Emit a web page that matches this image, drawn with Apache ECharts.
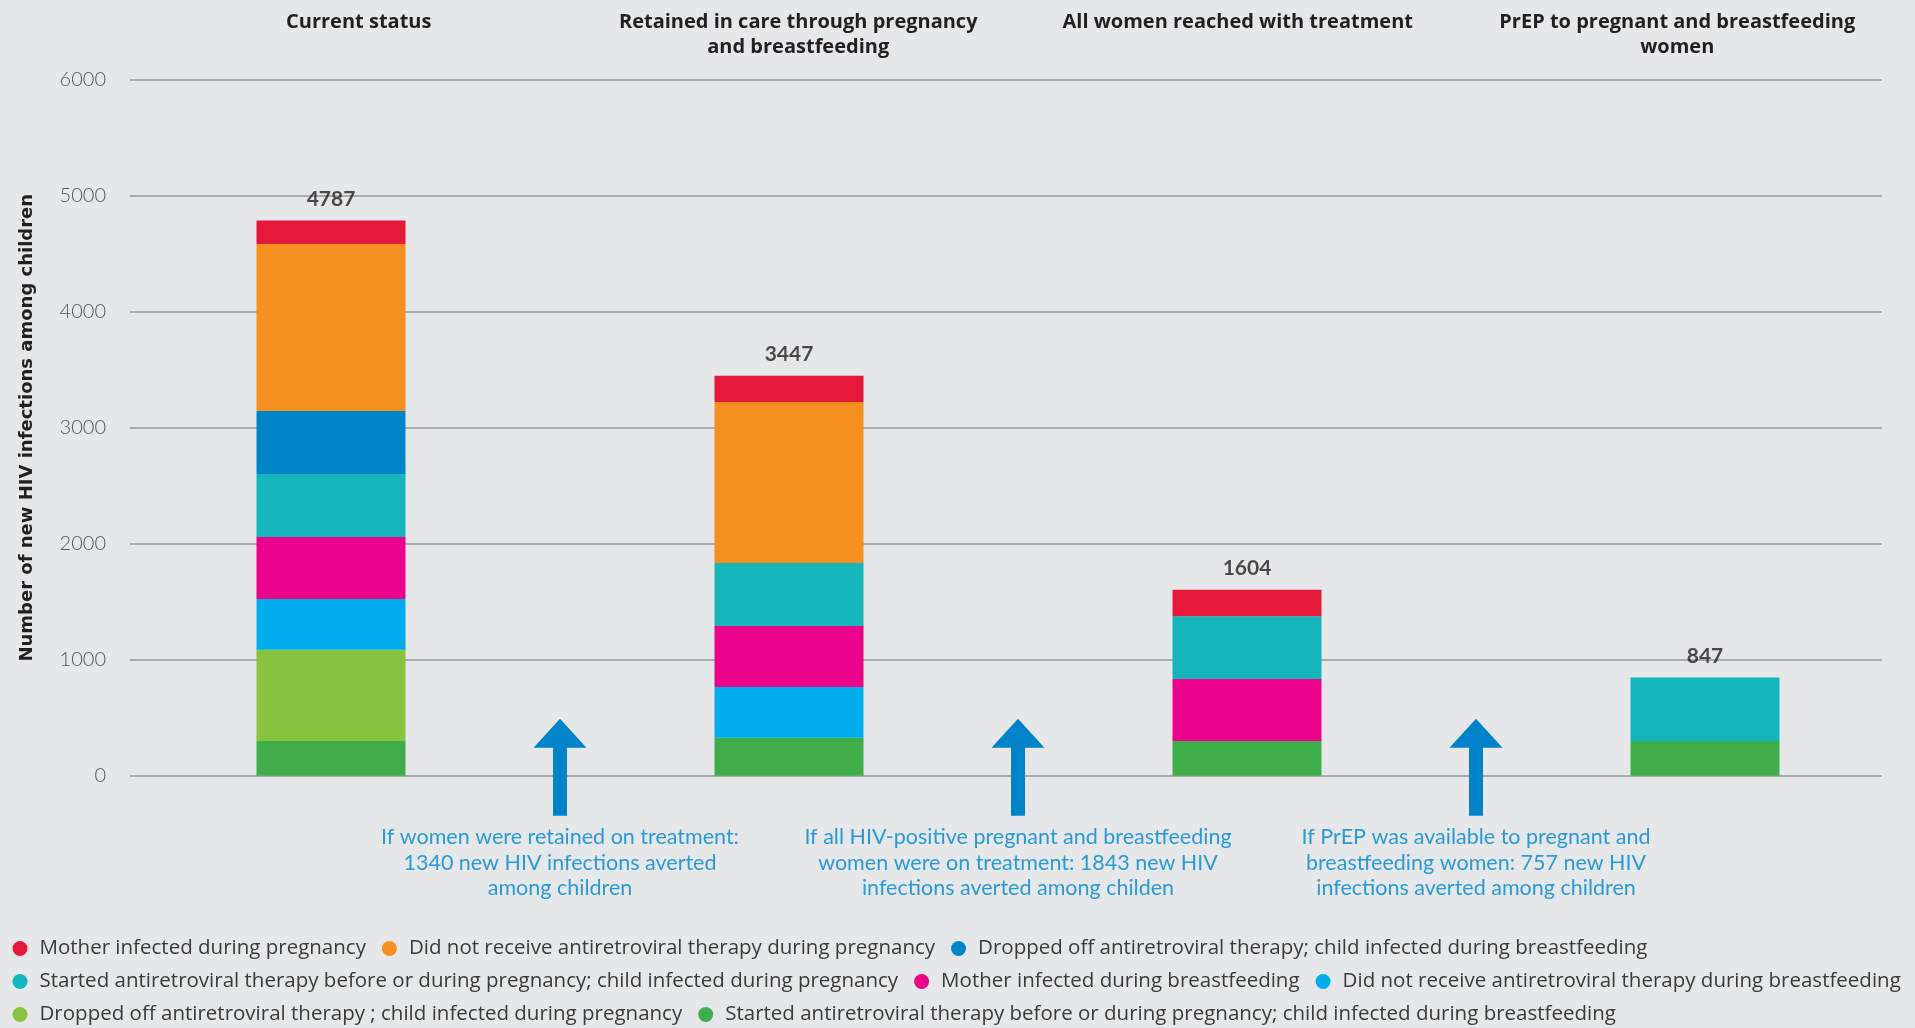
<!DOCTYPE html>
<html><head><meta charset="utf-8">
<script src="https://cdn.jsdelivr.net/npm/echarts@6/dist/echarts.min.js"></script>
<style>html,body{margin:0;padding:0;background:#e6e7e8;}#chart{width:1915px;height:1028px;}</style>
</head><body><div id="chart"></div>
<script>
// ---- data ----
const barTitles = ['Current status', 'Retained in care through pregnancy\nand breastfeeding', 'All women reached with treatment', 'PrEP to pregnant and breastfeeding\nwomen'];
const slots = ['Current status', 'gap1', 'Retained in care', 'gap2', 'All women reached', 'gap3', 'PrEP'];
const barSlots = [0, 2, 4, 6];
const arrowSlots = [1, 3, 5];
const totals = [4787, 3447, 1604, 847];
const yTicks = [0, 1000, 2000, 3000, 4000, 5000, 6000];
// stack segments, bottom to top, per bar
const startedArtChildBf = [299, 328, 299, 299];
const droppedOffChildPreg = [787, 0, 0, 0];
const noArtBf = [437, 437, 0, 0];
const motherInfectedBf = [535, 525, 535, 0];
const startedArtChildPreg = [543, 544, 540, 548];
const droppedOffChildBf = [543, 0, 0, 0];
const noArtPreg = [1440, 1388, 0, 0];
const motherInfectedPreg = [203, 225, 230, 0];
const arrowTexts = [
  'If women were retained on treatment:\n1340 new HIV infections averted\namong children',
  'If all HIV-positive pregnant and breastfeeding\nwomen were on treatment: 1843 new HIV\ninfections averted among childen',
  'If PrEP was available to pregnant and\nbreastfeeding women: 757 new HIV\ninfections averted among children'
];
const seriesDefs = [
  {name: 'Started antiretroviral therapy before or during pregnancy; child infected during breastfeeding', values: startedArtChildBf, color: '#40ae4a'},
  {name: 'Dropped off antiretroviral therapy ; child infected during pregnancy', values: droppedOffChildPreg, color: '#89c440'},
  {name: 'Did not receive antiretroviral therapy during breastfeeding', values: noArtBf, color: '#00adec'},
  {name: 'Mother infected during breastfeeding', values: motherInfectedBf, color: '#ec038b'},
  {name: 'Started antiretroviral therapy before or during pregnancy; child infected during pregnancy', values: startedArtChildPreg, color: '#14b6bc'},
  {name: 'Dropped off antiretroviral therapy; child infected during breastfeeding', values: droppedOffChildBf, color: '#0085c9'},
  {name: 'Did not receive antiretroviral therapy during pregnancy', values: noArtPreg, color: '#f58f1f'},
  {name: 'Mother infected during pregnancy', values: motherInfectedPreg, color: '#e4193a'}
];
const legendRows = [
  ['Mother infected during pregnancy', 'Did not receive antiretroviral therapy during pregnancy', 'Dropped off antiretroviral therapy; child infected during breastfeeding'],
  ['Started antiretroviral therapy before or during pregnancy; child infected during pregnancy', 'Mother infected during breastfeeding', 'Did not receive antiretroviral therapy during breastfeeding'],
  ['Dropped off antiretroviral therapy ; child infected during pregnancy', 'Started antiretroviral therapy before or during pregnancy; child infected during breastfeeding']
];

// ---- chart ----
const FONT = 'Lato, "Open Sans", sans-serif';
const WIDE = '"Open Sans", Lato, sans-serif';
function toSlots(vals) {
  const out = slots.map(() => '-');
  barSlots.forEach((s, i) => { out[s] = vals[i] ? vals[i] : '-'; });
  return out;
}
const chart = echarts.init(document.getElementById('chart'));
const series = seriesDefs.map(d => ({
  type: 'bar', name: d.name, stack: 'total', xAxisIndex: 1, yAxisIndex: 1,
  barWidth: 149, itemStyle: {color: d.color}, data: toSlots(d.values), animation: false
}));
series.push({
  type: 'scatter', xAxisIndex: 1, yAxisIndex: 1, symbolSize: 0, silent: true,
  data: barSlots.map((s, i) => [s, totals[i]]),
  label: {show: true, position: 'top', distance: 11, formatter: p => String(p.value[1]),
    fontFamily: FONT, fontWeight: 'bold', fontSize: 21, color: '#231f20'}
});
series.push({
  type: 'custom', xAxisIndex: 1, yAxisIndex: 1, clip: false, silent: true,
  data: arrowSlots.map(s => [s, 0]),
  renderItem: function (params, api) {
    const p = api.coord([api.value(0), 0]);
    const x = p[0], y0 = p[1];
    return {type: 'group', children: [
      {type: 'polygon', shape: {points: [[x, y0 - 57], [x + 26.5, y0 - 28], [x + 7, y0 - 28], [x + 7, y0 + 40], [x - 7, y0 + 40], [x - 7, y0 - 28], [x - 26.5, y0 - 28]]},
        style: {fill: '#0083c9'}},
      {type: 'text', x: x, y: y0 + 49, style: {text: arrowTexts[params.dataIndex], fill: '#2a9ad6',
        fontFamily: FONT, fontSize: 21.5, align: 'center', verticalAlign: 'top', lineHeight: 25.5}}
    ]};
  }
});
const legends = legendRows.map((row, i) => ({
  data: row, left: 12.5, top: 938 + i * 33, padding: 0, orient: 'horizontal',
  icon: 'circle', itemWidth: 29, itemHeight: 15, itemGap: 16, selectedMode: false,
  textStyle: {fontFamily: WIDE, fontSize: 20.5, color: '#3a3a3a'}
}));
chart.setOption({
  backgroundColor: '#e6e7e8',
  animation: false,
  legend: legends,
  grid: [
    {left: 130, right: 33, top: 79.7, bottom: 252.3, outerBoundsMode: 'none', containLabel: false},
    {left: 216.5, right: 95.5, top: 79.7, bottom: 252.3, outerBoundsMode: 'none', containLabel: false},
    {left: 139, right: 18, top: 79.7, bottom: 252.3, outerBoundsMode: 'none', containLabel: false}
  ],
  xAxis: [
    {gridIndex: 0, type: 'value', show: false, min: 0, max: 1},
    {gridIndex: 1, type: 'category', data: slots, show: false},
    {gridIndex: 2, type: 'category', data: barTitles, position: 'top',
      axisLine: {show: false}, axisTick: {show: false}, splitLine: {show: false},
      axisLabel: {interval: 0, fontFamily: WIDE, fontWeight: 'bold', fontSize: 20, color: '#231f20',
        lineHeight: 25, verticalAlign: 'top', margin: 70, align: 'center'}}
  ],
  yAxis: [
    {gridIndex: 0, type: 'value', min: yTicks[0], max: yTicks[yTicks.length - 1], interval: 1000,
      name: 'Number of new HIV infections among children', nameLocation: 'middle', nameGap: 94,
      nameTextStyle: {fontFamily: '"DejaVu Sans", sans-serif', fontWeight: 'bold', fontSize: 18, color: '#231f20'},
      axisLine: {show: false}, axisTick: {show: false},
      axisLabel: {fontFamily: FONT, fontWeight: 300, fontSize: 20, color: '#555658', margin: 24, formatter: v => String(v)},
      splitLine: {show: true, lineStyle: {color: '#a7a9ac', width: 2}}},
    {gridIndex: 1, type: 'value', min: yTicks[0], max: yTicks[yTicks.length - 1], interval: 1000, show: false, splitLine: {show: false}},
    {gridIndex: 2, type: 'value', min: 0, max: 1, show: false, splitLine: {show: false}}
  ],
  series: series.concat([{type: 'line', xAxisIndex: 0, yAxisIndex: 0, data: [], silent: true},
    {type: 'line', xAxisIndex: 2, yAxisIndex: 2, data: [], silent: true}])
});
</script></body></html>
